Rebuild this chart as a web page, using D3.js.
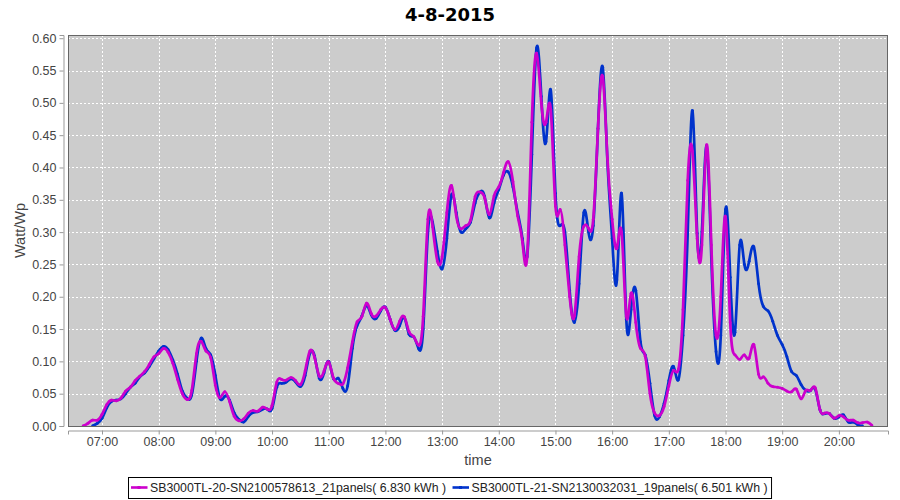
<!DOCTYPE html>
<html>
<head>
<meta charset="utf-8">
<script src="https://cdn.jsdelivr.net/npm/d3@7/dist/d3.min.js"></script>
<style>
  body { margin: 0; background: #fff; }
  text { font-family: "Liberation Sans", Arial, sans-serif; }
</style>
</head>
<body>
<div id="grafico"></div>
<script>
// Dati: un campione ogni 5 minuti, dalle 06:40 alle 20:35
var titolo = "4-8-2015";
var primoCampione = "06:40";
var passoMinuti = 5;
var dominioX = ["06:24", "20:52"];
var tickX = ["07:00", "08:00", "09:00", "10:00", "11:00", "12:00", "13:00",
             "14:00", "15:00", "16:00", "17:00", "18:00", "19:00", "20:00"];
var tickY = [0, 0.05, 0.10, 0.15, 0.20, 0.25, 0.30, 0.35, 0.40, 0.45, 0.50, 0.55, 0.60];
var nomiSerie = ["SB3000TL-20-SN2100578613_21panels( 6.830 kWh )",
                 "SB3000TL-21-SN2130032031_19panels( 6.501 kWh )"];

// SB3000TL-20 (magenta)
var inverter20 = [
  0.000, 0.004, 0.009, 0.009,                                                          // 06:40-06:55
  0.018, 0.033, 0.040, 0.039, 0.043, 0.054, 0.060, 0.070, 0.077, 0.084, 0.095, 0.107, // 07
  0.112, 0.120, 0.114, 0.097, 0.072, 0.050, 0.041, 0.055, 0.112, 0.131, 0.116, 0.106, // 08
  0.063, 0.044, 0.053, 0.038, 0.015, 0.008, 0.011, 0.020, 0.024, 0.023, 0.029, 0.026, // 09
  0.032, 0.068, 0.072, 0.071, 0.075, 0.070, 0.064, 0.085, 0.116, 0.106, 0.077, 0.085, // 10
  0.099, 0.074, 0.066, 0.065, 0.090, 0.130, 0.161, 0.169, 0.190, 0.174, 0.170, 0.180, // 11
  0.183, 0.165, 0.149, 0.162, 0.169, 0.146, 0.138, 0.125, 0.170, 0.320, 0.308, 0.255, // 12
  0.262, 0.330, 0.372, 0.325, 0.305, 0.310, 0.318, 0.355, 0.362, 0.353, 0.327, 0.356, // 13
  0.370, 0.392, 0.409, 0.378, 0.325, 0.285, 0.262, 0.470, 0.577, 0.500, 0.470, 0.490, // 14
  0.340, 0.335, 0.280, 0.200, 0.170, 0.262, 0.309, 0.306, 0.320, 0.460, 0.541, 0.414, // 15
  0.320, 0.275, 0.300, 0.170, 0.205, 0.160, 0.120, 0.108, 0.050, 0.020, 0.016, 0.030, // 16
  0.062, 0.086, 0.087, 0.180, 0.380, 0.425, 0.290, 0.280, 0.435, 0.280, 0.140, 0.200, // 17
  0.324, 0.160, 0.110, 0.103, 0.110, 0.105, 0.126, 0.080, 0.076, 0.066, 0.061, 0.060, // 18
  0.058, 0.054, 0.053, 0.057, 0.042, 0.055, 0.055, 0.059, 0.025, 0.020, 0.019, 0.012, // 19
  0.016, 0.014, 0.009, 0.009, 0.005, 0.005, 0.006, 0.001                               // 20:00-20:35
];

// SB3000TL-21 (blu)
var inverter21 = [
  null, null, 0.000, 0.004,
  0.012, 0.028, 0.038, 0.040, 0.042, 0.050, 0.060, 0.066, 0.076, 0.082, 0.092, 0.104,
  0.116, 0.123, 0.118, 0.102, 0.080, 0.054, 0.043, 0.048, 0.100, 0.136, 0.120, 0.110,
  0.078, 0.042, 0.046, 0.040, 0.020, 0.010, 0.006, 0.015, 0.021, 0.022, 0.026, 0.026,
  0.027, 0.060, 0.066, 0.068, 0.073, 0.068, 0.061, 0.078, 0.112, 0.108, 0.074, 0.082,
  0.100, 0.073, 0.074, 0.058, 0.062, 0.120, 0.155, 0.170, 0.186, 0.172, 0.166, 0.178,
  0.184, 0.165, 0.148, 0.155, 0.168, 0.142, 0.138, 0.120, 0.150, 0.300, 0.315, 0.270,
  0.243, 0.290, 0.358, 0.330, 0.300, 0.305, 0.315, 0.345, 0.362, 0.355, 0.322, 0.345,
  0.366, 0.388, 0.393, 0.370, 0.330, 0.290, 0.262, 0.420, 0.585, 0.510, 0.440, 0.520,
  0.360, 0.310, 0.300, 0.210, 0.160, 0.220, 0.330, 0.300, 0.310, 0.460, 0.555, 0.410,
  0.290, 0.226, 0.360, 0.165, 0.180, 0.210, 0.130, 0.110, 0.066, 0.016, 0.014, 0.035,
  0.070, 0.092, 0.071, 0.140, 0.300, 0.488, 0.298, 0.300, 0.433, 0.260, 0.115, 0.140,
  0.335, 0.230, 0.145, 0.280, 0.250, 0.255, 0.277, 0.220, 0.185, 0.178, 0.162, 0.140,
  0.126, 0.107, 0.084, 0.078, 0.064, 0.055, 0.055, 0.057, 0.025, 0.019, 0.019, 0.012,
  0.014, 0.017, 0.006, 0.006, 0.002, 0.000, null, null
];

var coloriSerie = ["#cc00cc", "#0033cc"];

// Dimensioni e margini
var larghezzaTot = 900, altezzaTot = 500;
var margin = {top: 35, right: 12, bottom: 74, left: 68};
var width = larghezzaTot - margin.left - margin.right;
var height = altezzaTot - margin.top - margin.bottom;

var leggiOra = d3.timeParse("%H:%M");
var inizio = leggiOra(primoCampione);
var orari = inverter20.map(function(d, i) { return d3.timeMinute.offset(inizio, i * passoMinuti); });

var svg = d3.select("#grafico")
  .append("svg")
  .attr("width", larghezzaTot)
  .attr("height", altezzaTot);

// Titolo
svg.append("text")
  .attr("x", larghezzaTot / 2)
  .attr("y", 21)
  .attr("text-anchor", "middle")
  .style("font-family", "'DejaVu Sans', sans-serif")
  .style("font-weight", "bold")
  .style("font-size", "18px")
  .text(titolo);

var g = svg.append("g")
  .attr("transform", "translate(" + margin.left + "," + margin.top + ")");

// Scale
var x = d3.scaleTime()
  .domain(dominioX.map(leggiOra))
  .range([0, width]);

var y = d3.scaleLinear()
  .domain([0, 0.605])
  .range([height, 0]);

// Sfondo dell'area del grafico
g.append("rect")
  .attr("width", width)
  .attr("height", height)
  .attr("fill", "#cccccc");

// Griglia
g.append("g")
  .selectAll("line")
  .data(tickX.map(leggiOra))
  .enter()
  .append("line")
  .attr("x1", function(d) { return Math.round(x(d)) + 0.5; })
  .attr("x2", function(d) { return Math.round(x(d)) + 0.5; })
  .attr("y1", 0)
  .attr("y2", height)
  .attr("stroke", "#ffffff")
  .attr("stroke-dasharray", "2,2");

g.append("g")
  .selectAll("line")
  .data(tickY)
  .enter()
  .append("line")
  .attr("x1", 0)
  .attr("x2", width)
  .attr("y1", function(d) { return Math.round(y(d)) + 0.5; })
  .attr("y2", function(d) { return Math.round(y(d)) + 0.5; })
  .attr("stroke", "#ffffff")
  .attr("stroke-dasharray", "2,2");

// Linee delle serie (blu sotto, magenta sopra)
var linea = d3.line()
  .defined(function(d) { return d.v !== null; })
  .x(function(d) { return x(d.t); })
  .y(function(d) { return y(d.v); })
  .curve(d3.curveNatural);

var serie = [inverter20, inverter21].map(function(valori, k) {
  return {
    nome: nomiSerie[k],
    colore: coloriSerie[k],
    punti: valori.map(function(v, i) { return {t: orari[i], v: v}; })
  };
});

g.append("clipPath").attr("id", "clipArea")
  .append("rect").attr("width", width).attr("height", height);

serie.slice().reverse().forEach(function(s) {
  var gs = g.append("g").attr("clip-path", "url(#clipArea)");
  gs.append("path")
    .datum(s.punti)
    .attr("fill", "none")
    .attr("stroke", s.colore)
    .attr("stroke-width", 2.7)
    .attr("stroke-linejoin", "round")
    .attr("d", linea);
  gs.selectAll("circle")
    .data(s.punti.filter(function(d) { return d.v !== null; }))
    .enter()
    .append("circle")
    .attr("cx", function(d) { return x(d.t); })
    .attr("cy", function(d) { return y(d.v); })
    .attr("r", 1.4)
    .attr("fill", s.colore);
});

// Bordo dell'area
g.append("rect")
  .attr("x", 0.5)
  .attr("y", 0.5)
  .attr("width", width - 1)
  .attr("height", height)
  .attr("fill", "none")
  .attr("stroke", "#666666");

// Asse Y (staccato di 4px dall'area)
var asseY = g.append("g")
  .attr("transform", "translate(-4.5,0)")
  .call(d3.axisLeft(y).tickValues(tickY).tickFormat(d3.format(".2f")).tickSize(4).tickPadding(3));

// Asse X (staccato di 4px sotto l'area)
var asseX = g.append("g")
  .attr("transform", "translate(0," + (height + 4.5) + ")")
  .call(d3.axisBottom(x).tickValues(tickX.map(leggiOra)).tickFormat(d3.timeFormat("%H:%M")).tickSize(4).tickPadding(3));

[asseX, asseY].forEach(function(a) {
  a.select(".domain").attr("stroke", "#999999");
  a.selectAll(".tick line").attr("stroke", "#999999");
  a.selectAll(".tick text")
    .attr("fill", "#444444")
    .style("font-family", "'Liberation Sans', Arial, sans-serif")
    .style("font-size", "12.5px");
});

// Etichette degli assi
svg.append("text")
  .attr("text-anchor", "middle")
  .attr("transform", "translate(25," + (margin.top + height / 2) + ") rotate(-90)")
  .attr("fill", "#444444")
  .style("font-size", "14.5px")
  .text("Watt/Wp");

svg.append("text")
  .attr("text-anchor", "middle")
  .attr("x", margin.left + width / 2)
  .attr("y", 465)
  .attr("fill", "#444444")
  .style("font-size", "14.5px")
  .text("time");

// Legenda
var legenda = svg.append("g");
var cornice = legenda.append("rect")
  .attr("fill", "#ffffff")
  .attr("stroke", "#000000");

var cursore = 0;
serie.forEach(function(s) {
  var voce = legenda.append("g").attr("transform", "translate(" + cursore + ",0)");
  voce.append("line")
    .attr("x1", 0).attr("x2", 16.5)
    .attr("y1", 0).attr("y2", 0)
    .attr("stroke", s.colore)
    .attr("stroke-width", 2.6);
  voce.append("rect")
    .attr("x", 6.5).attr("y", -1.5)
    .attr("width", 3).attr("height", 3)
    .attr("fill", s.colore);
  var testo = voce.append("text")
    .attr("x", 19)
    .attr("y", 4.5)
    .attr("fill", "#222222")
    .style("font-size", "12.3px")
    .text(s.nome);
  cursore += 19 + testo.node().getComputedTextLength() + 6.5;
});

var larghezzaLeg = cursore - 6.5 + 6.5;
var xLeg = Math.round(larghezzaTot / 2 - larghezzaLeg / 2);
legenda.attr("transform", "translate(" + (xLeg + 3) + ",487.5)");
cornice
  .attr("x", -2.5)
  .attr("y", -10)
  .attr("width", larghezzaLeg)
  .attr("height", 21);
</script>
</body>
</html>
